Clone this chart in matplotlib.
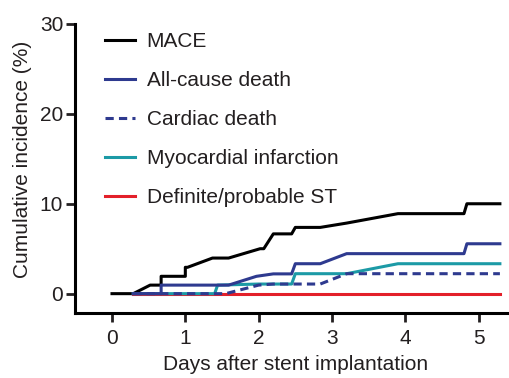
import matplotlib
matplotlib.use("Agg")
import matplotlib.pyplot as plt

plt.rcParams['font.family'] = ['Liberation Sans', 'DejaVu Sans']

# Data (vertices of the cumulative incidence curves)
mace_t = [0.0, 0.29, 0.52, 0.67, 0.67, 1.0, 1.0, 1.03, 1.37, 1.59, 2.02, 2.07, 2.2, 2.45, 2.5, 2.84, 3.2, 3.9, 4.80, 4.84, 5.29]
mace_y = [0, 0, 0.95, 0.95, 1.93, 1.93, 2.93, 2.93, 3.96, 3.96, 5.0, 5.0, 6.65, 6.65, 7.37, 7.37, 7.85, 8.9, 8.9, 10.0, 10.0]

acd_t = [0.29, 0.67, 0.67, 1.59, 1.97, 2.2, 2.45, 2.5, 2.84, 3.2, 4.80, 4.84, 5.29]
acd_y = [0, 0, 0.95, 0.95, 1.93, 2.2, 2.2, 3.33, 3.33, 4.45, 4.45, 5.55, 5.55]

cd_t = [0.29, 1.55, 2.0, 2.2, 2.84, 3.2, 5.29]
cd_y = [0, 0, 0.95, 1.07, 1.07, 2.22, 2.22]

mi_t = [0.29, 1.40, 1.44, 2.0, 2.45, 2.5, 3.2, 3.9, 5.29]
mi_y = [0, 0, 0.95, 1.07, 1.07, 2.22, 2.22, 3.33, 3.33]

st_t = [0.29, 5.29]
st_y = [0, 0]

labels = ["MACE", "All-cause death", "Cardiac death", "Myocardial infarction", "Definite/probable ST"]
x_ticks = [0, 1, 2, 3, 4, 5]
y_ticks = [0, 10, 20, 30]

navy = "#2E3A8F"
teal = "#1C9AA6"
red = "#E3202A"
lw = 2.2

fig = plt.figure(figsize=(5.10, 3.78), dpi=100)
ax = fig.add_axes([0.147, 0.172, 0.849, 0.7646])

l_st, = ax.plot(st_t, st_y, color=red, lw=lw, zorder=2)
l_mi, = ax.plot(mi_t, mi_y, color=teal, lw=lw, zorder=3)
l_cd, = ax.plot(cd_t, cd_y, color=navy, lw=lw, ls=(0, (2.7, 1.7)), zorder=4)
l_acd, = ax.plot(acd_t, acd_y, color=navy, lw=lw, zorder=5)
l_mace, = ax.plot(mace_t, mace_y, color="black", lw=lw, zorder=1)

ax.set_xlim(-0.505, 5.4)
ax.set_ylim(-2.15, 30)
ax.set_xticks(x_ticks)
ax.set_yticks(y_ticks)

for s in ["top", "right"]:
    ax.spines[s].set_visible(False)
for s in ["left", "bottom"]:
    ax.spines[s].set_linewidth(2.2)
ax.tick_params(axis="both", width=2.0, length=6.5, labelsize=15, colors="#231F20")
ax.tick_params(axis="y", pad=2)
ax.tick_params(axis="x", pad=5)

ax.set_xlabel("Days after stent implantation", fontsize=15, color="#231F20")
ax.set_ylabel("Cumulative incidence (%)", fontsize=15, color="#231F20")
ax.yaxis.set_label_coords(-0.099, 0.533)
ax.xaxis.set_label_coords(0.509, -0.145)

leg = ax.legend([l_mace, l_acd, l_cd, l_mi, l_st], labels,
                loc="upper left", bbox_to_anchor=(0.069, 0.972),
                frameon=False, fontsize=15, handlelength=1.45, handletextpad=0.55,
                labelspacing=0.96, borderpad=0, borderaxespad=0)
for t in leg.get_texts():
    t.set_color("#231F20")

fig.savefig("out.png", dpi=100)
